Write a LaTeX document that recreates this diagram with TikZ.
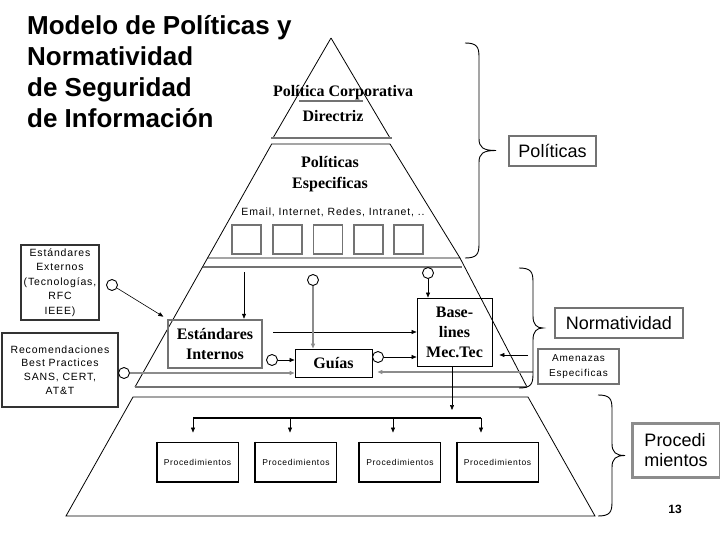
\documentclass[tikz,border=0pt]{standalone}
\usepackage{fontspec}
\setmainfont{Liberation Serif}
\setsansfont{Liberation Sans}
\newfontfamily\wsans[LetterSpace=8]{Liberation Sans}
\usetikzlibrary{arrows.meta,calc}
\definecolor{dgray}{gray}{0.45}
\definecolor{mgray}{gray}{0.55}
\newcommand{\bracedraw}[4]{%
  \draw[line width=0.9pt] ({#1-14},#2) .. controls ({#1-2},#2) and (#1,{#2+4}) .. (#1,{#2+14})
   -- (#1,{(#2+#3)/2-12}) .. controls (#1,{(#2+#3)/2-3}) and ({#1+4},{(#2+#3)/2}) .. ({#1+#4},{(#2+#3)/2})
   .. controls ({#1+4},{(#2+#3)/2}) and (#1,{(#2+#3)/2+3}) .. (#1,{(#2+#3)/2+12})
   -- (#1,{#3-14}) .. controls (#1,{#3-4}) and ({#1-2},#3) .. ({#1-14},#3);}
\begin{document}
\begin{tikzpicture}[x=1pt,y=-1pt,
  edge/.style={line width=0.8pt},
  gline/.style={draw=dgray,line width=2.6pt},
  arr/.style={-{Triangle[length=5pt,width=4pt]},line width=0.6pt},
  garr/.style={-{Triangle[length=5pt,width=4pt]},draw=mgray,line width=1.6pt},
  sbold/.style={font=\fontsize{16}{20}\selectfont\bfseries, align=center, inner sep=0pt},
  wtext/.style={font=\wsans\fontsize{10.5}{12}\selectfont, align=center},
  lbl/.style={draw=dgray, line width=1.3pt, font=\sffamily\fontsize{18}{20.7}\selectfont, inner sep=0pt},
  sqbox/.style={draw=dgray, line width=1.6pt, minimum width=29pt, minimum height=29pt, inner sep=0pt},
  cir/.style={circle, draw, line width=0.9pt, fill=white, minimum size=11pt, inner sep=0pt},
  procbox/.style={draw, line width=0.9pt, minimum width=81pt, minimum height=40pt, inner sep=0pt,
     font=\wsans\fontsize{8.5}{10}\selectfont},
  obox/.style={draw=black!80, line width=1.3pt, inner sep=0pt, font=\wsans\fontsize{10.5}{14.5}\selectfont, align=center}
]
\useasboundingbox (0,0) rectangle (720,540);
\fill[white] (0,0) rectangle (720,540);

% title
\node[anchor=base west, inner sep=0pt, align=left,
  font=\sffamily\bfseries\fontsize{26}{31.3}\selectfont] (title) at (27,128)
  {Modelo de Políticas y\\Normatividad\\de Seguridad\\de Información};

% pyramid
\draw[edge] (331,38) -- (273,138);
\draw[edge] (331,38) -- (390,138);
\draw[gline] (271,138) -- (392,138);
\draw[draw=dgray, line width=1.8pt] (299,101) -- (363,101);
\draw[edge] (390,144) -- (271.7,144) -- (135,387);
\draw[edge] (390,144) -- (460,258) -- (207,258);
\draw[edge] (460,258) -- (527,387);
\draw[gline] (203,267) -- (462,267);
\draw[draw=dgray, line width=2pt] (135,387) -- (527,387);
\draw[edge] (66,516) -- (133,397) -- (528,397) -- (595,516) -- cycle;

% top texts
\node[sbold, anchor=base] (pc) at (343,97) {Política Corporativa};
\node[sbold, anchor=base] (dir) at (333,122) {Directriz};
\node[sbold, anchor=base, font=\fontsize{16}{21.5}\selectfont\bfseries] (pe) at (330,189) {Políticas\\Especificas};
\node[wtext, anchor=base] (em) at (333,215) {Email, Internet, Redes, Intranet, ..};
\node[sqbox] (s1) at (246.5,239.5) {};
\node[sqbox] (s2) at (287.5,239.5) {};
\node[sqbox] (s3) at (328,239.5) {};
\node[sqbox] (s4) at (368.5,239.5) {};
\node[sqbox] (s5) at (408.5,239.5) {};

% normatividad layer
\node[draw=dgray, line width=2.5pt, minimum width=94pt, minimum height=48pt, inner sep=0pt,
  font=\fontsize{16}{20}\selectfont\bfseries, align=center] (ei) at (215,344) {Estándares\\Internos};
\node[draw, line width=0.9pt, minimum width=77pt, minimum height=28pt, inner sep=0pt,
  font=\fontsize{16}{20}\selectfont\bfseries] (gu) at (333.5,363) {Guías};
\node[draw, line width=0.9pt, minimum width=75pt, minimum height=68pt, inner sep=0pt,
  font=\fontsize{16}{20}\selectfont\bfseries, align=center] (bl) at (454.5,332) {Base-\\lines\\Mec.Tec};

\node[obox, minimum width=78pt, minimum height=75pt] (ee) at (60,282.5)
  {Estándares\\Externos\\(Tecnologías,\\RFC\\IEEE)};
\node[obox, minimum width=116pt, minimum height=74pt, font=\wsans\fontsize{10.5}{13.8}\selectfont] (rec) at (60,370)
  {Recomendaciones\\Best Practices\\SANS, CERT,\\AT\&T};
\node[draw=dgray, line width=1.5pt, minimum width=81pt, minimum height=35pt, inner sep=0pt,
  font=\wsans\fontsize{10}{15}\selectfont, align=center] (am) at (578.5,366.5) {Amenazas\\Especificas};

\node[cir] (c1) at (112,285) {};
\node[cir] (c2) at (272,360) {};
\node[cir] (c3) at (313,280) {};
\node[cir] (c4) at (378,357) {};
\node[cir] (c5) at (428,273) {};
\node[cir] (c6) at (124,373) {};

\coordinate (t1) at (244,272);
\coordinate (e1) at (273,332);
\coordinate (a1) at (528,355);
\coordinate (a2) at (533,372);

\draw[arr, shorten >=4pt] (c1) -- (ei.north west);
\draw[arr] (t1) -- (t1 |- ei.north);
\draw[arr] (c2) -- (c2 -| gu.west);
\draw[arr] (e1) -- (e1 -| bl.west);
\draw[garr] (c3) -- (c3 |- gu.north);
\draw[arr] (c4) -- (c4 -| bl.west);
\draw[arr] (c5) -- (c5 |- bl.north);
\draw[garr] (c6) -- (c6 -| gu.west);
\draw[garr, shorten >=5pt] (a2) -- (a2 -| gu.east);
\draw[arr, shorten >=7pt] (a1) -- (a1 -| bl.east);

% procedimientos
\node[procbox] (p1) at (197.5,462) {Procedimientos};
\node[procbox] (p2) at (296,462) {Procedimientos};
\node[procbox] (p3) at (400,462) {Procedimientos};
\node[procbox] (p4) at (497.5,462) {Procedimientos};
\foreach \p in {p1,p2,p3,p4}{
  \draw[line width=2pt] (\p.north west) -- (\p.south west) -- (\p.south east);
}
\coordinate (b0) at (452,410);
\draw[arr] (bl.south -| b0) -- (b0);
\coordinate (d1) at (193,418);
\coordinate (d2) at (290,418);
\coordinate (d3) at (393,418);
\coordinate (d4) at (481,418);
\draw[line width=2.2pt] (d1) -- (d4);
\draw[arr, shorten >=9pt] (d1) -- (d1 |- p1.north);
\draw[arr, shorten >=9pt] (d2) -- (d2 |- p2.north);
\draw[arr, shorten >=9pt] (d3) -- (d3 |- p3.north);
\draw[arr, shorten >=9pt] (d4) -- (d4 |- p4.north);

% braces and labels
\bracedraw{479}{43}{258}{17}
\bracedraw{533}{268}{388}{10}
\bracedraw{612}{395}{516}{13}
\node[lbl, minimum width=87pt, minimum height=30pt] (pol) at (552.5,151) {Políticas};
\node[lbl, minimum width=128pt, minimum height=30pt] (nor) at (619,323) {Normatividad};
\node[lbl, draw=mgray, line width=3pt, minimum width=88pt, minimum height=54pt, align=left] (pro) at (676,450) {Procedi\\mientos};
\node[font=\sffamily\bfseries\fontsize{12}{14}\selectfont, inner sep=0pt] (num) at (675,509) {13};
\end{tikzpicture}
\end{document}
